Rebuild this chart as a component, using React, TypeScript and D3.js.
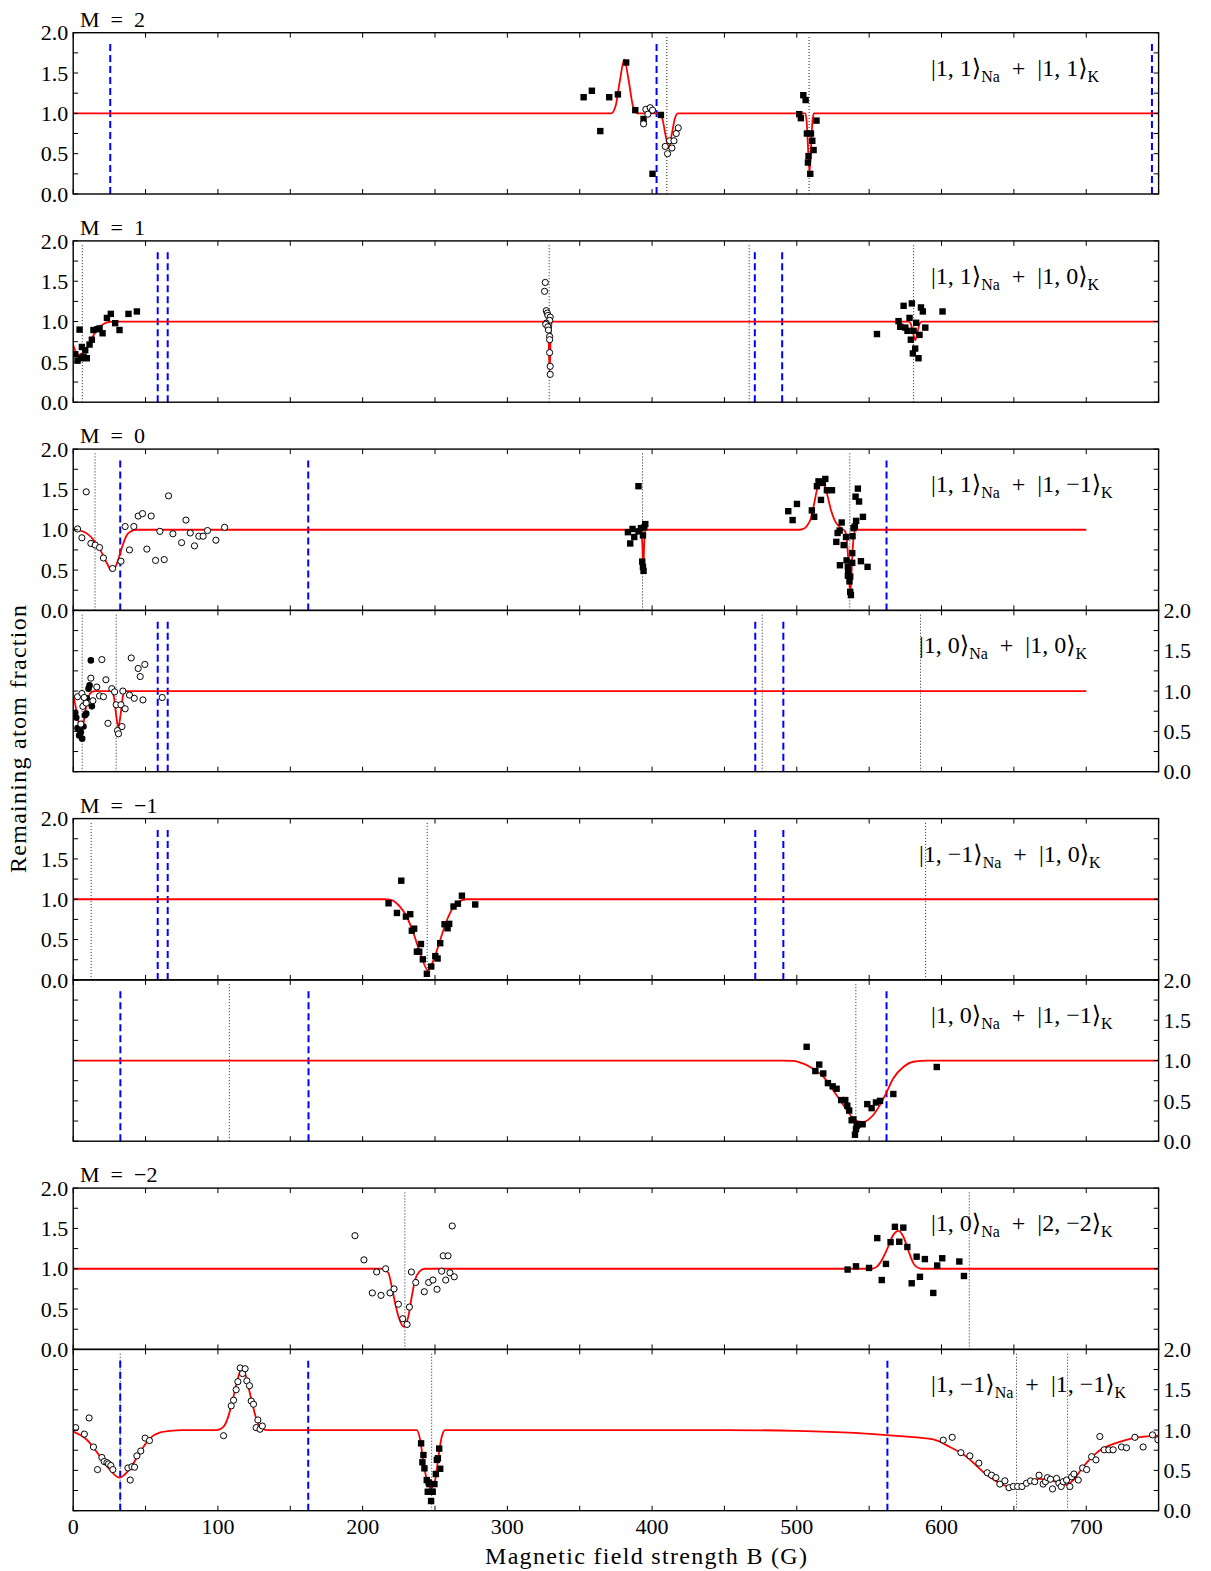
import React from 'react';
import * as d3 from 'd3';

type P = [number, number];

// ---------- data ----------
const xTicks = d3.range(0, 751, 50);
const xTickLabels = [0, 100, 200, 300, 400, 500, 600, 700];
const yTicks = d3.range(0, 2.001, 0.25);
const yTickLabels = [0, 0.5, 1.0, 1.5, 2.0];

const mLabels = ['M = 2', 'M = 1', 'M = 0', 'M = \u22121', 'M = \u22122'];

const stateLabels: [string, string][] = [
  ['|1, 1\u27e9', '|1, 1\u27e9'],
  ['|1, 1\u27e9', '|1, 0\u27e9'],
  ['|1, 1\u27e9', '|1, \u22121\u27e9'],
  ['|1, 0\u27e9', '|1, 0\u27e9'],
  ['|1, \u22121\u27e9', '|1, 0\u27e9'],
  ['|1, 0\u27e9', '|1, \u22121\u27e9'],
  ['|1, 0\u27e9', '|2, \u22122\u27e9'],
  ['|1, \u22121\u27e9', '|1, \u22121\u27e9'],
];

// Panel 1: M = 2, |1,1> + |1,1>
const p1Squares: P[] = [[352.7,1.20],[358.4,1.28],[364.2,0.78],[370.4,1.20],[376.4,1.235],[382.1,1.63],[388.4,1.04],[394.1,0.93],[400.3,0.25],[406.1,0.98],[501.7,0.99],[502.8,0.94],[504.5,1.225],[506.1,1.165],[507.0,0.75],[509.8,0.75],[510.7,0.66],[511.6,0.545],[508.1,0.47],[507.7,0.39],[509.3,0.25],[513.6,0.91]];
const p1Circles: P[] = [[394.1,0.87],[395.7,1.05],[397.1,0.99],[398.7,1.07],[400.3,1.04],[409.1,0.59],[410.7,0.50],[412.1,0.66],[413.7,0.57],[415.1,0.66],[416.7,0.75],[418.1,0.82]];
const p1Curve: P[] = [[0,1],[371.8,1.0],[374.8,1.09],[377.8,1.41],[380.8,1.67],[383.8,1.41],[386.8,1.09],[389.8,1.0],[404.8,1.0],[407,0.94],[409.2,0.74],[411.4,0.57],[413.6,0.74],[415.8,0.94],[418,1.0],[505.8,1.0],[506.8,0.90],[507.8,0.56],[508.8,0.27],[509.8,0.56],[510.8,0.90],[511.8,1.0],[750,1.0]];
const p1Blue = [25.6, 403.1, 745.4];
const p1Dotted = [410.2, 508.5];

// Panel 2: M = 1, |1,1> + |1,0>
const p2Squares: P[] = [[1.4,0.595],[3,0.515],[4.4,0.90],[5.3,0.545],[6,0.685],[7.1,0.565],[8.3,0.645],[9.4,0.545],[11.3,0.715],[12.9,0.775],[14,0.895],[16.8,0.905],[18.2,0.915],[20.3,0.855],[23.3,1.045],[26,1.095],[29,0.98],[32,0.895],[38.2,1.095],[44,1.125],
  [555.4,0.845],[570.3,1.005],[573.8,1.195],[579.5,1.225],[585.8,1.175],[587.1,1.125],[600.7,1.125],[577.9,1.045],[571.5,0.935],[575,0.925],[576.5,0.885],[580.7,0.885],[582.5,0.985],[584.8,0.835],[588.8,0.925],[578.8,0.775],[581.8,0.665],[580.2,0.605],[584.1,0.545]];
const p2Circles: P[] = [[326.2,1.485],[325.7,1.375],[326.9,1.135],[327.6,1.105],[328,1.075],[329.6,1.055],[329.2,1.015],[326.9,0.98],[326.5,0.965],[328,0.935],[328.4,0.895],[329.2,0.815],[329.2,0.775],[329.2,0.615],[329.6,0.445],[329.6,0.345]];
const p2Curve: P[] = [[0,0.71],[2,0.62],[4,0.59],[6,0.60],[9,0.66],[12,0.76],[15,0.86],[18,0.93],[21,0.97],[25,0.995],[28,1.0],[327.6,1.0],[328.5,0.82],[329.2,0.36],[329.9,0.82],[330.8,1.0],[577.3,1.0],[578.8,0.97],[580.3,0.86],[581.8,0.77],[583.3,0.86],[584.8,0.97],[586.3,1.0],[750,1.0]];
const p2Blue = [58.4, 65.3, 471.0, 489.9];
const p2Dotted = [6.3, 328.9, 467.1, 580.7];

// Panel 3: M = 0, |1,1> + |1,-1>
const p3Circles: P[] = [[3,1.01],[6,0.90],[9,1.47],[12.2,0.83],[15.2,0.81],[18.2,0.78],[20.9,0.65],[27.2,0.52],[33,0.61],[35.9,1.04],[38.9,0.75],[41.9,1.04],[44.9,1.17],[47.9,1.20],[50.9,0.76],[53.9,1.17],[56.9,0.62],[59.9,0.98],[62.9,0.63],[65.9,1.42],[68.9,0.95],[74.9,0.84],[77.9,1.12],[80.9,0.96],[83.8,0.80],[86.8,0.92],[89.8,0.92],[92.8,0.99],[98.6,0.87],[104.6,1.03]];
const p3Squares: P[] = [[390.6,1.54],[383.3,0.97],[384.9,0.83],[386.5,1.01],[387.7,0.91],[390.6,0.98],[392.3,1.02],[393.7,0.93],[394.6,1.03],[395.3,1.07],[393.2,0.605],[393.7,0.54],[394.1,0.49],
  [494.1,1.23],[497.1,1.12],[500.1,1.32],[510.4,1.24],[512,1.16],[513.9,1.54],[515,1.60],[516.7,1.37],[518,1.58],[519.7,1.63],[520.8,1.49],[524.3,1.49],[527.3,0.85],[528.2,0.96],[529.6,0.99],[531,1.09],[532.4,0.81],[529.8,0.56],[534,0.91],[534.4,0.62],[535.3,0.54],[535.5,0.50],[535.3,0.43],[536.4,0.36],[536.9,0.23],[537.4,0.19],[538.3,0.71],[538.5,0.92],[539.2,1.02],[540.1,1.04],[541,1.11],[540.6,1.41],[542.2,1.51],[543,1.35],[545.7,1.16],[544.3,0.61],[548.9,0.54],[538.3,0.59],[536.9,0.42]];
const p3Curve: P[] = [[0,1.0],[5,0.99],[9.4,0.955],[14,0.875],[18.7,0.75],[23.3,0.585],[26.7,0.49],[29.5,0.55],[32.5,0.71],[35,0.85],[37.1,0.935],[40,0.98],[43,1.0],[392.5,1.0],[393.3,0.8],[393.9,0.48],[394.5,0.8],[395.3,1.0],[502,1.0],[505,1.015],[507.5,1.06],[509.3,1.12],[511.6,1.29],[514.4,1.53],[517.4,1.63],[520.8,1.45],[523.6,1.245],[526.6,1.10],[530,1.03],[533.5,0.975],[534.6,0.87],[535.6,0.62],[536.9,0.19],[538.2,0.62],[539.2,0.90],[540.6,1.0],[700,1.0]];
const p3Blue = [32.5, 162.4, 562.0];
const p3Dotted = [15.1, 393.4, 536.6];

// Panel 4: |1,0> + |1,0>
const p4Filled: P[] = [[12.2,1.38],[1.4,0.73],[2.1,0.67],[3,0.54],[4.1,0.45],[5.3,0.49],[6.2,0.41],[7.1,0.56],[8.1,0.70],[9,0.72],[9.4,0.91],[10.6,1.03],[11.3,1.07],[12.9,0.81]];
const p4Circles: P[] = [[3,0.93],[5.3,0.59],[6,0.97],[6.7,0.81],[7.6,0.92],[9,0.85],[12.2,1.16],[13.6,0.88],[16.3,1.05],[18.2,0.94],[19.8,1.39],[20.9,0.93],[22.6,1.14],[24,0.60],[26.7,1.03],[28.6,0.99],[29.7,0.83],[30.6,0.51],[31.3,0.47],[33,0.83],[33.7,0.56],[34.3,1.0],[35.9,0.78],[38.9,0.95],[40.1,1.41],[42.2,0.91],[44.9,1.28],[46.3,1.18],[48.2,0.89],[49.5,1.33],[61.5,0.92]];
const p4Curve: P[] = [[0,0.94],[1.2,0.85],[3,0.68],[5.3,0.50],[7.1,0.60],[9,0.81],[10.6,0.93],[12.9,0.99],[15,1.0],[26.8,1.0],[28.2,0.92],[29.7,0.70],[31.2,0.55],[32.7,0.70],[34.2,0.92],[35.6,1.0],[700,1.0]];
const p4Blue = [58.4, 65.3, 471.3, 490.7];
const p4Dotted = [6.2, 29.7, 476.1, 585.5];

// Panel 5: M = -1, |1,-1> + |1,0>
const p5Squares: P[] = [[217.9,0.95],[226.7,1.23],[223.7,0.83],[229.9,0.785],[232.9,0.815],[234,0.61],[235.6,0.635],[240.3,0.445],[237.5,0.35],[239.1,0.35],[241.6,0.255],[244.4,0.076],[247.4,0.166],[250.2,0.295],[251.8,0.265],[253.6,0.455],[256.6,0.69],[258.7,0.64],[259.8,0.695],[262.8,0.91],[265.8,0.945],[268.6,1.044],[277.8,0.935]];
const p5Curve: P[] = [[0,1],[215,1.0],[220.2,0.99],[225.9,0.905],[230.6,0.78],[235.2,0.575],[239.8,0.33],[245.1,0.12],[249,0.245],[253.6,0.495],[258.2,0.74],[262.8,0.905],[267.4,0.98],[272,1.0],[750,1]];
const p5Blue = [58.4, 65.3, 471.3, 490.7];
const p5Dotted = [12.4, 244.6, 589.0];

// Panel 6: |1,0> + |1,-1>
const p6Squares: P[] = [[506.8,1.17],[515.5,0.95],[512.8,0.87],[518.3,0.84],[521.5,0.72],[524.8,0.68],[527.5,0.65],[530.7,0.51],[533.5,0.51],[534.9,0.44],[536.2,0.38],[537.9,0.26],[539.1,0.27],[541.4,0.19],[540.9,0.15],[540.2,0.08],[542.5,0.21],[545.5,0.21],[548.7,0.46],[551.7,0.41],[554.7,0.48],[557.5,0.50],[566.7,0.585],[596.7,0.92]];
const p6Curve: P[] = [[0,1],[490,1.0],[497.6,0.995],[503,0.97],[509.2,0.92],[518.3,0.80],[527.5,0.57],[534.4,0.39],[540.2,0.26],[545.9,0.24],[552.8,0.325],[557.5,0.45],[562.1,0.61],[566.7,0.78],[573.6,0.92],[580.5,0.985],[590,1.0],[750,1]];
const p6Blue = [32.6, 162.6, 562.0];
const p6Dotted = [107.9, 540.8];

// Panel 7: M = -2, |1,0> + |2,-2>
const p7Circles: P[] = [[194.7,1.41],[200.9,1.11],[209.7,0.96],[215.9,1.00],[206.7,0.70],[212.7,0.67],[218.9,0.70],[221.7,0.75],[224.7,0.56],[227.7,0.38],[230.7,0.31],[232.3,0.525],[233.7,0.96],[236.7,0.83],[242.6,0.715],[245.6,0.83],[248.6,0.86],[251.4,0.745],[254.6,0.97],[255.7,1.16],[259,1.16],[257.4,0.86],[260.3,0.95],[261.9,1.53],[263.3,0.90]];
const p7Squares: P[] = [[535.1,0.99],[540.9,1.03],[549.9,1.01],[555.6,1.38],[558.7,0.86],[561.6,1.06],[564.8,1.33],[567.8,1.52],[570.8,1.335],[573.6,1.51],[576.4,1.27],[579.4,0.82],[582.8,1.15],[585.1,0.90],[588.5,1.12],[594.3,0.70],[597,1.04],[600.5,1.13],[612.3,1.09],[615.5,0.91]];
const p7Curve: P[] = [[0,1],[213,1.0],[217.7,0.95],[220.1,0.78],[222.5,0.57],[224.8,0.405],[228.6,0.28],[231.6,0.41],[233.9,0.65],[236.2,0.86],[239.2,0.965],[243,1.0],[552,1.0],[555,1.02],[557.4,1.07],[562.1,1.23],[566.7,1.42],[570.1,1.47],[573.6,1.40],[577,1.23],[580.5,1.07],[583,1.02],[586,1.0],[750,1]];
const p7Blue: number[] = [];
const p7Dotted = [229.2, 619.2];

// Panel 8: |1,-1> + |1,-1>
const p8Circles: P[] = [[1.7,1.03],[7.7,0.95],[11,1.15],[14,0.79],[16.8,0.51],[19.8,0.66],[21.4,0.61],[23.3,0.595],[24.4,0.58],[26,0.56],[27.4,0.51],[37.8,0.53],[39.4,0.38],[40.6,0.545],[42.4,0.54],[44,0.68],[46.7,0.74],[49.7,0.90],[52.7,0.87],
  [103.9,0.93],[109.2,1.30],[110.8,1.37],[112.6,1.50],[113.8,1.60],[115.4,1.77],[117,1.70],[118.8,1.76],[120,1.61],[121.8,1.55],[123,1.36],[124.6,1.32],[127.6,1.125],[126.4,1.03],[129.1,1.01],[130.7,1.05],
  [601.2,0.875],[607.4,0.91],[613.4,0.72],[619.6,0.68],[625.8,0.59],[631.6,0.47],[634.6,0.44],[637.6,0.41],[640.3,0.33],[643.8,0.37],[646.6,0.285],[649.6,0.30],[652.6,0.30],[655.6,0.30],[658.7,0.34],[661.5,0.37],[664.4,0.36],[667.4,0.44],[670.2,0.33],[671.8,0.36],[673.2,0.41],[675.3,0.39],[676.7,0.27],[679.5,0.40],[681.1,0.34],[682.7,0.30],[684.1,0.36],[686.4,0.38],[688.7,0.30],[689.9,0.42],[691.5,0.455],[694.5,0.38],[697.5,0.53],[700.3,0.51],[703.7,0.67],[706.7,0.63],[709.4,0.92],[712.4,0.755],[715.6,0.755],[718.6,0.755],[724.4,0.79],[727.8,0.78],[733.6,0.91],[739.3,0.79],[745.8,0.94],[749.5,0.88]];
const p8Squares: P[] = [[240.4,0.835],[242,0.69],[241.3,0.60],[242.7,0.525],[244.3,0.38],[245,0.235],[246.1,0.33],[247.3,0.12],[248.4,0.235],[249.6,0.33],[250.6,0.455],[251.3,0.63],[252,0.65],[253.6,0.52],[252.9,0.77],[245.6,0.35],[247.9,0.235]];
const p8Curve: P[] = [[0,0.98],[9.4,0.88],[18.6,0.67],[25.5,0.505],[31.9,0.41],[39.4,0.525],[46.3,0.73],[53.2,0.90],[60.1,0.97],[67,0.99],[75,1.0],[99.3,1.0],[103.8,1.04],[107.2,1.17],[110.7,1.41],[113.5,1.62],[116,1.75],[118.8,1.70],[121,1.54],[124,1.31],[126.8,1.125],[130.3,1.02],[134,1.0],[237.4,1.0],[239.8,0.875],[242.1,0.59],[244.4,0.38],[247.1,0.28],[250.1,0.38],[252.4,0.67],[254.7,0.92],[257,1.0],[450,1.0],[500,0.99],[540,0.965],[571.3,0.925],[594.3,0.885],[605.8,0.79],[617.3,0.67],[628.8,0.48],[640.3,0.34],[647.2,0.29],[651.8,0.285],[658.7,0.35],[667.9,0.395],[677.2,0.37],[686.4,0.32],[691,0.38],[697.9,0.545],[709.4,0.75],[720.9,0.84],[732.5,0.90],[750,0.93]];
const p8Blue = [32.5, 162.4, 562.6];
const p8Dotted = [32.5, 247.7, 651.8, 687.1];

// ---------- layout ----------
const W = 1211, H = 1571;
const X0 = 73.2, X1 = 1158.6;
const PH = 161.3;
const TOPS = [32.7, 240.9, 449.1, 610.4, 818.6, 979.9, 1188.1, 1349.4];
const SIDES = ['left', 'left', 'left', 'right', 'left', 'right', 'left', 'right'];
const M_INDEX = [0, 1, 2, -1, 3, -1, 4, -1];
const LABEL_X = [931, 931, 931, 919, 919, 931, 931, 931];
const FONT = "'Liberation Serif', 'DejaVu Serif', serif";

const panels = [
  { squares: p1Squares, circles: p1Circles, filled: [] as P[], curve: p1Curve, blue: p1Blue, dotted: p1Dotted },
  { squares: p2Squares, circles: p2Circles, filled: [] as P[], curve: p2Curve, blue: p2Blue, dotted: p2Dotted },
  { squares: p3Squares, circles: p3Circles, filled: [] as P[], curve: p3Curve, blue: p3Blue, dotted: p3Dotted },
  { squares: [] as P[], circles: p4Circles, filled: p4Filled, curve: p4Curve, blue: p4Blue, dotted: p4Dotted },
  { squares: p5Squares, circles: [] as P[], filled: [] as P[], curve: p5Curve, blue: p5Blue, dotted: p5Dotted },
  { squares: p6Squares, circles: [] as P[], filled: [] as P[], curve: p6Curve, blue: p6Blue, dotted: p6Dotted },
  { squares: p7Squares, circles: p7Circles, filled: [] as P[], curve: p7Curve, blue: p7Blue, dotted: p7Dotted },
  { squares: p8Squares, circles: p8Circles, filled: [] as P[], curve: p8Curve, blue: p8Blue, dotted: p8Dotted },
];

const x = d3.scaleLinear().domain([0, 750]).range([X0, X1]);

function Panel({ i }: { i: number }) {
  const p = panels[i];
  const top = TOPS[i];
  const y = d3.scaleLinear().domain([0, 2]).range([top + PH, top]);
  const line = d3.line<P>().x(d => x(d[0])).y(d => y(d[1])).curve(d3.curveMonotoneX);
  const clipId = `clip${i}`;
  const side = SIDES[i];
  const [k1, k2] = stateLabels[i];
  const tl = 5;
  return (
    <g>
      <defs>
        <clipPath id={clipId}>
          <rect x={X0} y={top} width={X1 - X0} height={PH} />
        </clipPath>
      </defs>
      <g clipPath={`url(#${clipId})`}>
        {p.dotted.map((b, j) => (
          <line key={'d' + j} x1={x(b)} x2={x(b)} y1={y(0)} y2={y(1.95)} stroke="#222" strokeWidth={1} strokeDasharray="1,2" />
        ))}
        {p.blue.map((b, j) => (
          <line key={'b' + j} x1={x(b)} x2={x(b)} y1={y(0)} y2={y(1.9)} stroke="#0000ff" strokeWidth={2} strokeDasharray="7,4" />
        ))}
        <path d={line(p.curve) || ''} fill="none" stroke="#ff0000" strokeWidth={1.8} />
        {p.squares.map((d, j) => (
          <rect key={'s' + j} x={x(d[0]) - 3.2} y={y(d[1]) - 3.2} width={6.4} height={6.4} fill="#000" />
        ))}
        {p.filled.map((d, j) => (
          <circle key={'f' + j} cx={x(d[0])} cy={y(d[1])} r={3.3} fill="#000" />
        ))}
        {p.circles.map((d, j) => (
          <circle key={'c' + j} cx={x(d[0])} cy={y(d[1])} r={3.1} fill="#fff" stroke="#000" strokeWidth={1} />
        ))}
      </g>
      {xTicks.map(t => (
        <g key={'xt' + t}>
          <line x1={x(t)} x2={x(t)} y1={top} y2={top + tl} stroke="#000" strokeWidth={1} />
          <line x1={x(t)} x2={x(t)} y1={top + PH} y2={top + PH - tl} stroke="#000" strokeWidth={1} />
        </g>
      ))}
      {yTicks.map(t => (
        <g key={'yt' + t}>
          <line x1={X0} x2={X0 + tl} y1={y(t)} y2={y(t)} stroke="#000" strokeWidth={1} />
          <line x1={X1} x2={X1 - tl} y1={y(t)} y2={y(t)} stroke="#000" strokeWidth={1} />
        </g>
      ))}
      <rect x={X0} y={top} width={X1 - X0} height={PH} fill="none" stroke="#000" strokeWidth={1.4} />
      {yTickLabels.map(t => (
        <text key={'yl' + t}
          x={side === 'left' ? X0 - 5 : X1 + 5}
          y={y(t)} dy="0.35em"
          textAnchor={side === 'left' ? 'end' : 'start'}
          fontSize={22} fontFamily={FONT}>{t.toFixed(1)}</text>
      ))}
      {M_INDEX[i] >= 0 && (
        <text x={80} y={top - 6} fontSize={22} fontFamily={FONT}>
          {mLabels[M_INDEX[i]].replace(/ = /, '\u2002=\u2002')}
        </text>
      )}
      <text x={LABEL_X[i]} y={top + 43} fontSize={24} fontFamily={FONT}>
        <tspan>{k1}</tspan>
        <tspan fontSize={16} dy={6}>Na</tspan>
        <tspan dy={-6}>{'\u2002+\u2002' + k2}</tspan>
        <tspan fontSize={16} dy={6}>K</tspan>
      </text>
    </g>
  );
}

export default function App() {
  const bottom = TOPS[7] + PH;
  return (
    <svg width={W} height={H} style={{ position: 'absolute', left: 0, top: 0, background: '#fff' }}>
      <rect x={0} y={0} width={W} height={H} fill="#fff" />
      {panels.map((_, i) => <Panel key={i} i={i} />)}
      {xTickLabels.map(t => (
        <text key={'xl' + t} x={x(t)} y={bottom + 23} textAnchor="middle" fontSize={22} fontFamily={FONT}>{t}</text>
      ))}
      <text x={646} y={bottom + 53} textAnchor="middle" fontSize={24} fontFamily={FONT}
        textLength={322} lengthAdjust="spacing">Magnetic field strength B (G)</text>
      <text transform={`translate(26, 739) rotate(-90)`} textAnchor="middle" fontSize={24} fontFamily={FONT}
        textLength={268} lengthAdjust="spacing">Remaining atom fraction</text>
    </svg>
  );
}
